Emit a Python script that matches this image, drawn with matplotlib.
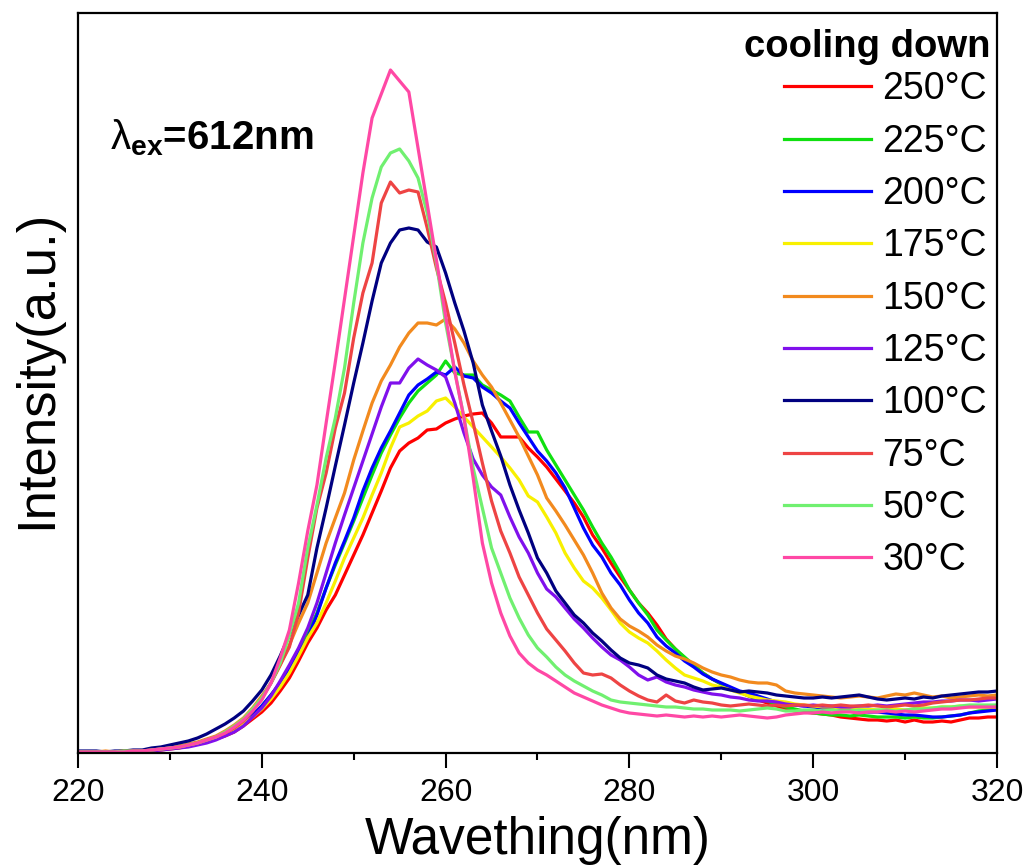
import numpy as np
import matplotlib
matplotlib.use("Agg")
import matplotlib.pyplot as plt

plt.rcParams['font.family'] = ['Liberation Sans', 'DejaVu Sans']
plt.rcParams['mathtext.fontset'] = 'custom'
plt.rcParams['mathtext.rm'] = 'Liberation Sans'
plt.rcParams['mathtext.bf'] = 'Liberation Sans:bold'

# excitation spectra recorded while cooling down, 1 nm steps
wavelength = np.arange(220, 321)

T250 = [1, 1, 1, 1, 1, 1, 2, 2, 3, 3,
        4, 5, 7, 9, 11, 14, 17, 21, 27, 34,
        41, 50, 62, 75, 92, 110, 125, 143, 158, 178,
        198, 218, 240, 262, 285, 302, 310, 315, 323, 324,
        330, 334, 337, 339, 340, 330, 316, 316, 316, 305,
        296, 286, 274, 262, 250, 236, 218, 205, 190, 176,
        163, 150, 140, 128, 114, 104, 95, 87, 80, 74,
        69, 64, 61, 57, 53, 50, 47, 44, 42, 41,
        40, 39, 38, 36, 35, 34, 33, 33, 32, 33,
        31, 33, 31, 31, 32, 31, 33, 35, 35, 36,
        36]

T225 = [1, 1, 1, 1, 1, 2, 2, 2, 3, 4,
        5, 6, 8, 10, 13, 16, 20, 25, 31, 38,
        47, 58, 70, 86, 103, 120, 140, 165, 188, 210,
        232, 255, 278, 300, 318, 335, 350, 362, 370, 378,
        392, 380, 378, 378, 368, 363, 358, 352, 336, 321,
        321, 303, 288, 273, 258, 243, 226, 210, 196, 180,
        163, 150, 138, 123, 113, 104, 96, 88, 80, 74,
        69, 65, 61, 57, 54, 52, 49, 46, 44, 42,
        40, 39, 38, 38, 37, 38, 37, 36, 36, 36,
        35, 36, 35, 35, 36, 37, 38, 40, 42, 43,
        44]

T200 = [1, 1, 1, 1, 1, 1, 2, 2, 3, 4,
        5, 6, 8, 10, 13, 16, 20, 25, 30, 38,
        47, 58, 70, 85, 100, 115, 138, 165, 190, 212,
        235, 262, 285, 305, 322, 340, 358, 368, 374, 381,
        378, 386, 377, 375, 366, 360, 352, 345, 330, 316,
        302, 292, 280, 265, 245, 225, 208, 196, 180, 168,
        153, 140, 130, 116, 107, 100, 92, 86, 79, 74,
        70, 66, 62, 60, 57, 54, 51, 49, 48, 47,
        46, 45, 45, 44, 43, 42, 41, 41, 40, 39,
        38, 38, 37, 36, 36, 37, 38, 40, 41, 42,
        43]

T175 = [1, 1, 1, 1, 1, 1, 2, 2, 3, 4,
        5, 6, 8, 10, 12, 15, 19, 24, 29, 36,
        44, 54, 66, 80, 97, 115, 130, 150, 172, 195,
        215, 235, 258, 280, 305, 326, 330, 337, 342, 352,
        355, 346, 336, 326, 316, 306, 296, 285, 273, 257,
        251, 236, 220, 200, 185, 172, 165, 155, 143, 130,
        121, 115, 110, 102, 93, 85, 78, 75, 72, 68,
        66, 63, 60, 57, 55, 53, 52, 51, 49, 48,
        47, 46, 46, 45, 45, 44, 44, 43, 43, 44,
        43, 44, 45, 45, 46, 46, 47, 46, 46, 46,
        46]

T150 = [1, 1, 1, 2, 1, 2, 2, 2, 3, 4,
        5, 7, 9, 11, 14, 17, 22, 28, 35, 45,
        57, 70, 88, 108, 130, 150, 180, 210, 235, 260,
        293, 322, 350, 372, 388, 406, 420, 430, 430, 428,
        434, 424, 410, 392, 378, 366, 350, 333, 316, 297,
        278, 255, 242, 228, 213, 198, 180, 160, 145, 134,
        127, 122, 116, 108, 102, 97, 94, 90, 85, 81,
        78, 76, 73, 71, 70, 70, 68, 62, 60, 59,
        58, 57, 56, 55, 56, 57, 56, 55, 57, 59,
        58, 60, 58, 56, 57, 55, 56, 57, 58, 57,
        58]

T125 = [1, 1, 1, 1, 1, 1, 2, 2, 2, 3,
        4, 5, 6, 8, 10, 13, 17, 21, 27, 36,
        45, 57, 72, 88, 105, 125, 150, 180, 210, 238,
        265, 292, 319, 346, 370, 370, 385, 394, 388, 383,
        376, 350, 320, 294, 278, 266, 258, 236, 216, 200,
        180, 164, 156, 145, 134, 125, 115, 106, 98, 93,
        86, 78, 73, 76, 71, 68, 66, 63, 61, 59,
        58, 56, 55, 53, 52, 52, 51, 49, 48, 47,
        48, 47, 47, 46, 46, 47, 47, 48, 47, 48,
        49, 50, 51, 51, 52, 52, 53, 53, 52, 53,
        54]

T100 = [2, 2, 2, 1, 2, 2, 3, 3, 5, 6,
        8, 10, 12, 15, 19, 24, 29, 35, 42, 52,
        63, 78, 97, 118, 138, 158, 205, 245, 287, 328,
        370, 410, 452, 490, 510, 523, 525, 523, 511, 506,
        480, 450, 422, 390, 348, 322, 297, 268, 243, 220,
        195, 180, 162, 150, 138, 130, 120, 112, 103, 95,
        90, 88, 85, 78, 74, 72, 70, 66, 63, 64,
        65, 63, 61, 62, 61, 60, 58, 57, 56, 55,
        55, 56, 55, 56, 57, 58, 56, 54, 53, 54,
        55, 54, 56, 55, 57, 58, 59, 60, 61, 61,
        62]

T75 = [1, 1, 1, 1, 1, 2, 2, 2, 3, 4,
       5, 6, 8, 10, 13, 16, 20, 25, 32, 42,
       55, 70, 88, 106, 140, 195, 245, 280, 325, 360,
       415, 460, 490, 550, 571, 560, 563, 561, 525, 485,
       450, 410, 368, 330, 290, 252, 222, 200, 176, 158,
       140, 124, 113, 102, 90, 80, 78, 79, 75, 68,
       62, 57, 53, 51, 58, 52, 50, 53, 51, 50,
       48, 47, 48, 49, 48, 47, 48, 47, 48, 48,
       47, 48, 47, 48, 47, 47, 48, 47, 46, 47,
       48, 47, 48, 50, 51, 52, 53, 53, 54, 55,
       55]

T50 = [1, 1, 1, 1, 1, 2, 2, 2, 3, 4,
       5, 6, 8, 10, 13, 16, 21, 27, 34, 44,
       55, 70, 90, 118, 150, 205, 248, 295, 335, 385,
       450, 510, 555, 586, 600, 604, 592, 575, 540, 490,
       430, 382, 335, 285, 245, 205, 180, 155, 135, 118,
       105, 96, 86, 78, 72, 67, 62, 58, 53, 51,
       50, 49, 48, 47, 46, 46, 45, 44, 44, 43,
       43, 43, 42, 43, 44, 45, 44, 42, 42, 43,
       43, 42, 43, 42, 42, 43, 42, 43, 43, 42,
       43, 44, 44, 45, 46, 46, 47, 48, 48, 48,
       48]

T30 = [1, 1, 1, 1, 1, 1, 2, 2, 3, 4,
       5, 6, 8, 10, 13, 16, 20, 26, 33, 42,
       53, 70, 95, 123, 170, 222, 268, 330, 391, 454,
       517, 580, 635, 659, 683, 672, 661, 605, 549, 493,
       437, 381, 335, 275, 210, 170, 140, 117, 100, 90,
       83, 78, 72, 66, 60, 56, 52, 48, 45, 42,
       40, 39, 38, 37, 38, 37, 36, 37, 36, 37,
       36, 37, 38, 37, 36, 35, 36, 38, 39, 40,
       40, 41, 40, 41, 41, 40, 41, 41, 42, 41,
       42, 41, 42, 43, 44, 44, 45, 46, 46, 46,
       46]

labels = ['250°C', '225°C', '200°C', '175°C', '150°C',
          '125°C', '100°C', '75°C', '50°C', '30°C']
series = [T250, T225, T200, T175, T150, T125, T100, T75, T50, T30]
colors = ['#ff0000', '#10e010', '#0000ff', '#f8f000', '#f28a1e',
          '#8010ec', '#000080', '#ee4444', '#70f070', '#ff48a5']

fig = plt.figure(figsize=(10.27, 8.68), dpi=100)
ax = fig.add_axes([78 / 1027, 115 / 868, 919 / 1027, 740 / 868])

for vals, lab, col in zip(series, labels, colors):
    ax.plot(wavelength, vals, color=col, lw=2.3, label=lab)

ax.set_xlim(220, 320)
ax.set_ylim(0, 740)
ax.set_xticks([220, 240, 260, 280, 300, 320])
ax.set_xticks(np.arange(230, 320, 20), minor=True)
ax.tick_params(axis='x', which='major', direction='out', length=11, width=1.5,
               labelsize=23, pad=7)
ax.tick_params(axis='x', which='minor', direction='out', length=5, width=1.5)
ax.tick_params(axis='y', left=False, labelleft=False)
for sp in ax.spines.values():
    sp.set_linewidth(1.6)

ax.set_xlabel('Wavething(nm)', fontsize=37, labelpad=6)
ax.set_ylabel('Intensity(a.u.)', fontsize=38)
ax.yaxis.set_label_coords(-0.017, 0.518)

ax.text(0.035, 0.832, r'$\mathrm{\lambda}_{\mathbf{ex}}$=612nm', transform=ax.transAxes,
        fontsize=29, fontweight='bold', ha='left', va='center')

# legend heading
ax.text(0.9924, 0.954, 'cooling down', transform=ax.transAxes,
        fontsize=27.5, fontweight='bold', ha='right', va='center')

leg = ax.legend(loc='upper right', frameon=False,
                fontsize=27, alignment='right', handlelength=2.32,
                handletextpad=0.29, labelspacing=0.435, borderpad=0.0,
                borderaxespad=0.0)
leg.set_bbox_to_anchor((1.0 - 10 / 919, 0.921), transform=ax.transAxes)
for h in leg.get_lines():
    h.set_linewidth(2.3)

fig.savefig('out.png', dpi=100)
